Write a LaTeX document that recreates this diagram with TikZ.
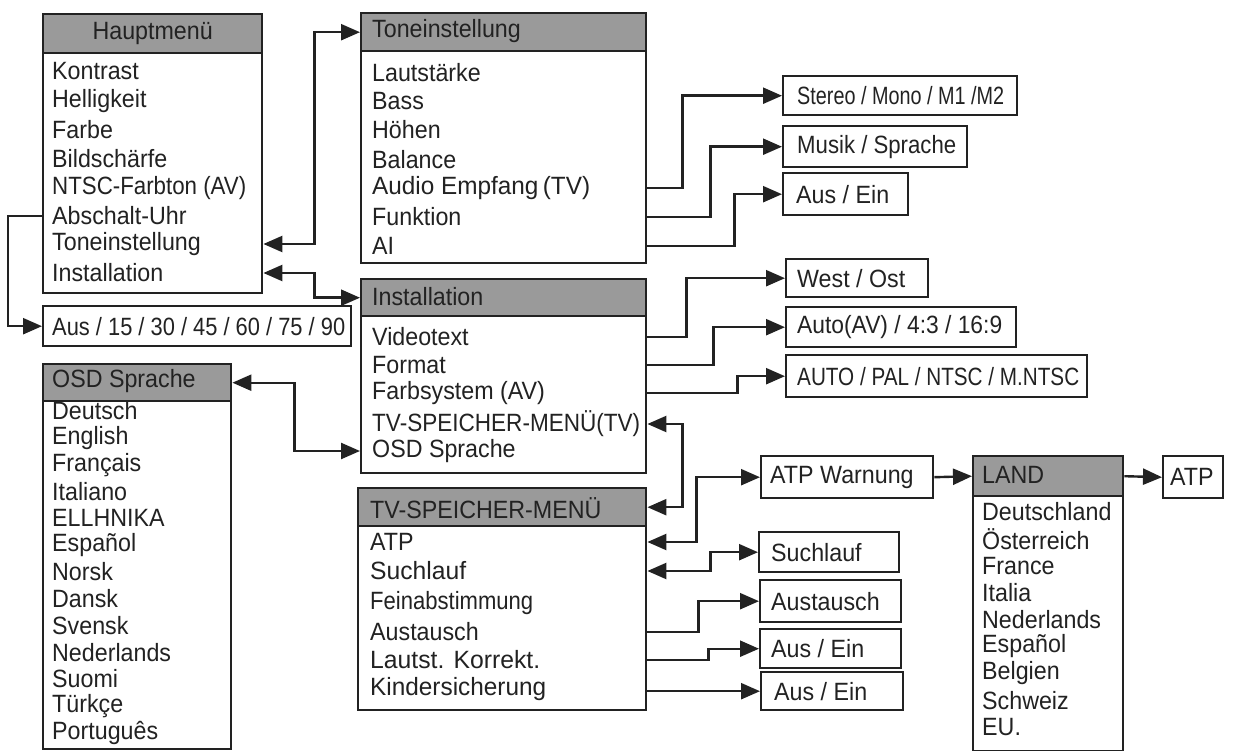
\documentclass[tikz,border=0pt]{standalone}
\usepackage{fontspec}
\setmainfont{Liberation Sans}[FakeStretch=0.93]
\usetikzlibrary{arrows.meta}
\definecolor{hdrgray}{HTML}{9A9A9A}
\definecolor{ink}{HTML}{222222}
\newcommand\fw[2]{\resizebox{#1pt}{\height}{#2}}
\begin{document}
\begin{tikzpicture}[x=1pt,y=-1pt,
  every node/.style={font=\fontsize{25}{28}\selectfont, text=ink},
  box/.style={draw=ink, line width=2.4pt, fill=white, anchor=north west, inner sep=0},
  hdr/.style={draw=ink, line width=2.4pt, fill=hdrgray, anchor=north west, inner sep=0},
  item/.style={anchor=west, inner sep=0},
  sbox/.style={draw=ink, line width=2.4pt, anchor=north west, inner sep=0},
  arr/.style={draw=ink, line width=2.4pt, -{Triangle[length=19pt,width=16pt]}},
  darr/.style={draw=ink, line width=2.4pt, {Triangle[length=19pt,width=16pt]}-{Triangle[length=19pt,width=16pt]}}]
\useasboundingbox (0,0) rectangle (1240,751);

% Hauptmenue
\node[box, minimum width=219, minimum height=279] (hm) at (42,13) {};
\node[hdr, minimum width=219, minimum height=39] (hmh) at (42,13) {Hauptmenü};
\node[item] (hm1) at (52,71) {Kontrast};
\node[item] (hm2) at (52,101) {Helligkeit};
\node[item] (hm3) at (52,130) {Farbe};
\node[item] (hm4) at (52,159) {Bildschärfe};
\node[item] (hm5) at (52,188) {\fw{194}{NTSC-Farbton (AV)}};
\node[item] (hm6) at (52,216) {Abschalt-Uhr};
\node[item] (hm7) at (52,244) {Toneinstellung};
\node[item] (hm8) at (52,273) {Installation};

\node[sbox, minimum width=308, minimum height=40] (aus) at (42,305) {};
\node[item] at ([xshift=10]aus.west) {\fw{293}{Aus / 15 / 30 / 45 / 60 / 75 / 90}};

% OSD
\node[box, minimum width=188, minimum height=385] (osd) at (42,363) {};
\node[hdr, minimum width=188, minimum height=37] (osdh) at (42,363) {};
\node[item] at (52,381) {OSD Sprache};
\foreach \t [count=\i] in {Deutsch,English,Français,Italiano,ELLHNIKA,Español,Norsk,Dansk,Svensk,Nederlands,Suomi,Türkçe,Português}
  \node[item] (osd\i) at (52,{411+26.8*(\i-1)}) {\t};

% Toneinstellung
\node[box, minimum width=285, minimum height=250] (ton) at (360,12) {};
\node[hdr, minimum width=285, minimum height=38] (tonh) at (360,12) {};
\node[item] at (372,31) {Toneinstellung};
\node[item] (ton1) at (372,73) {Lautstärke};
\node[item] (ton2) at (372,101) {Bass};
\node[item] (ton3) at (372,130) {Höhen};
\node[item] (ton4) at (372,160) {Balance};
\node[item] (ton5) at (372,188) {\fw{218}{Audio Empfang\,(TV)}};
\node[item] (ton6) at (372,217) {Funktion};
\node[item] (ton7) at (372,246) {AI};

% Installation
\node[box, minimum width=285, minimum height=194] (ins) at (360,278) {};
\node[hdr, minimum width=285, minimum height=37] (insh) at (360,278) {};
\node[item] at (372,297) {Installation};
\node[item] (ins1) at (372,337) {Videotext};
\node[item] (ins2) at (372,365) {Format};
\node[item] (ins3) at (372,393) {Farbsystem (AV)};
\node[item] (ins4) at (372,424) {\fw{268}{TV-SPEICHER-MENÜ(TV)}};
\node[item] (ins5) at (372,451) {OSD Sprache};

% TV-Speicher
\node[box, minimum width=288, minimum height=222] (tv) at (357,487) {};
\node[hdr, minimum width=288, minimum height=38] (tvh) at (357,487) {};
\node[item] at (370,508) {TV-SPEICHER-MENÜ};
\node[item] (tv1) at (370,542) {ATP};
\node[item] (tv2) at (370,571) {\fw{96}{Suchlauf}};
\node[item] (tv3) at (370,603) {\fw{163}{Feinabstimmung}};
\node[item] (tv4) at (370,632) {Austausch};
\node[item] (tv5) at (370,660) {\fw{170}{Lautst. Korrekt.}};
\node[item] (tv6) at (370,689) {\fw{176}{Kindersicherung}};

% LAND
\node[box, minimum width=150, minimum height=295] (land) at (972,455) {};
\node[hdr, minimum width=150, minimum height=40] (landh) at (972,455) {};
\node[item] at (982,475) {LAND};
\foreach \t [count=\i] in {Deutschland,Österreich,France,Italia,Nederlands,Español,Belgien,Schweiz,EU.}
  \node[item] (land\i) at (982,{512+26.9*(\i-1)}) {\t};

% small boxes
\node[sbox, minimum width=234, minimum height=39] (st) at (782,75) {};
\node[item] at ([xshift=15]st.west) {\fw{207}{Stereo / Mono / M1 /M2}};
\node[sbox, minimum width=184, minimum height=41] (mu) at (782,125) {};
\node[item] at ([xshift=15]mu.west) {\fw{159}{Musik / Sprache}};
\node[sbox, minimum width=125, minimum height=42] (ae1) at (782,172) {};
\node[item] at ([xshift=14]ae1.west) {Aus / Ein};
\node[sbox, minimum width=142, minimum height=38] (wo) at (785,258) {};
\node[item] at ([xshift=12]wo.west) {West / Ost};
\node[sbox, minimum width=230, minimum height=40] (fmt) at (785,306) {};
\node[item] at ([xshift=12]fmt.west) {\fw{205}{Auto(AV) / 4:3 / 16:9}};
\node[sbox, minimum width=301, minimum height=42] (pal) at (785,354) {};
\node[item] at ([xshift=12]pal.west) {\fw{282}{AUTO / PAL / NTSC / M.NTSC}};
\node[sbox, minimum width=172, minimum height=42] (atpw) at (760,455) {};
\node[item] at ([xshift=10]atpw.west) {ATP Warnung};
\node[sbox, minimum width=60, minimum height=42] (atp) at (1162,455) {};
\node[item] at ([xshift=8]atp.west) {ATP};
\node[sbox, minimum width=140, minimum height=40] (such) at (758,531) {};
\node[item] at ([xshift=13]such.west) {Suchlauf};
\node[sbox, minimum width=141, minimum height=42] (aust) at (759,579) {};
\node[item] at ([xshift=12]aust.west) {Austausch};
\node[sbox, minimum width=141, minimum height=39] (ae2) at (759,628) {};
\node[item] at ([xshift=12]ae2.west) {Aus / Ein};
\node[sbox, minimum width=142, minimum height=38] (ae3) at (760,671) {};
\node[item] at ([xshift=14]ae3.west) {Aus / Ein};

% connectors
\draw[arr] (hm.west |- hm6) -- ++(-34,0) |- (aus.west);
\draw[darr] (hm.east |- hm7) -- ++(51,0) |- (tonh.west);
\draw[darr] (hm.east |- hm8) -- ++(51,0) |- (insh.west);
\draw[darr] (osdh.east) -- ++(62,0) |- (ins.west |- ins5);

\draw[arr] (ton.east |- ton5) -- ++(35,0) |- (st.west);
\draw[arr] (ton.east |- ton6) -- ++(63,0) |- (mu.west);
\draw[arr] (ton.east |- ton7) -- ++(87,0) |- (ae1.west);

\draw[arr] (ins.east |- ins1) -- ++(39,0) |- (wo.west);
\draw[arr] (ins.east |- ins2) -- ++(66,0) |- (fmt.west);
\draw[arr] (ins.east |- ins3) -- ++(90,0) |- (pal.west);
\draw[darr] (ins.east |- ins4) -- ++(35,0) |- (tvh.east);

\draw[darr] (tv.east |- tv1) -- ++(49,0) |- (atpw.west);
\draw[darr] (tv.east |- tv2) -- ++(63,0) |- (such.west);
\draw[arr] (tv.east |- tv4) -- ++(51,0) |- (aust.west);
\draw[arr] (tv.east |- tv5) -- ++(61,0) |- (ae2.west);
\draw[arr] (tv.east |- ae3.west) -- (ae3.west);

\draw[arr] (atpw.east) -- (landh.west);
\draw[arr] (landh.east) -- (atp.west);
\end{tikzpicture}
\end{document}
